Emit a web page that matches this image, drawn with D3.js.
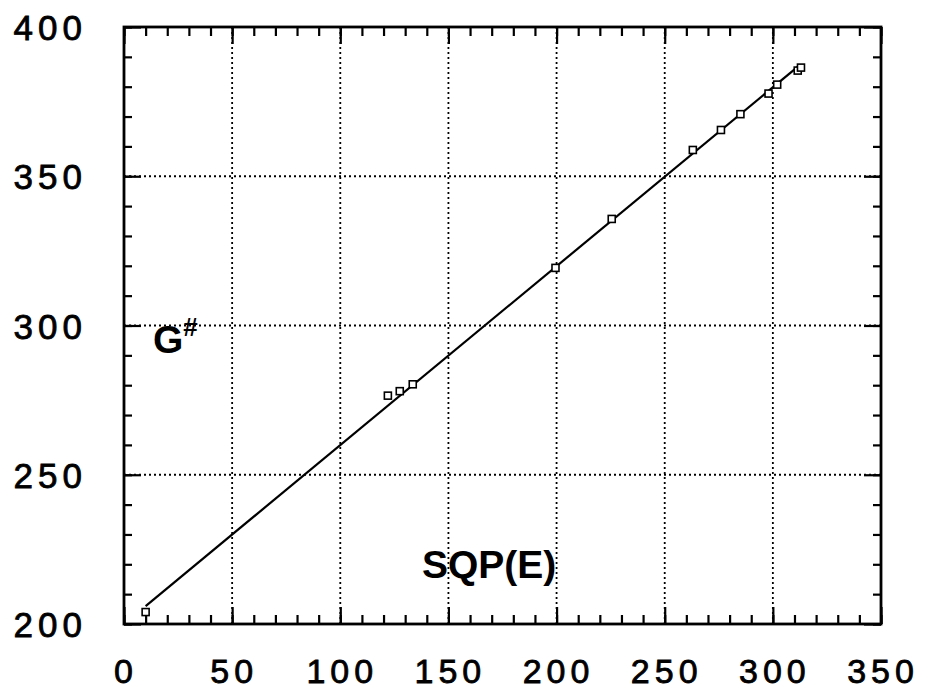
<!doctype html>
<html>
<head>
<meta charset="utf-8"/>
<title>G# vs SQP(E)</title>
<script src="https://d3js.org/d3.v7.min.js"></script>
<style>
body { margin:0; background:#fff; }
text { font-family: "Liberation Sans", Arial, sans-serif; fill:#000; }
</style>
</head>
<body>
<div id="grafico"></div>
<script>
// pontos medidos
var sqpE = [10, 122, 127.5, 133.5, 199.5, 225.5, 263, 276, 285, 298, 302, 311.5, 313];
var gVal = [204, 276.5, 278, 280.3, 319.3, 335.7, 358.8, 365.5, 370.8, 377.7, 380.7, 385.4, 386.4];
// reta ajustada
var retaX = [10, 312];
var retaY = [206, 387];
var ticksX = [0, 50, 100, 150, 200, 250, 300, 350];
var ticksY = [200, 250, 300, 350, 400];
var gridX = [50, 100, 150, 200, 250, 300];
var gridY = [250, 300, 350];

var svg = d3.select("#grafico")
    .append("svg")
    .attr("width", 925)
    .attr("height", 691);

var x = d3.scaleLinear().domain([0, 350]).range([124, 881]);
var y = d3.scaleLinear().domain([200, 400]).range([624, 27]);

var x0 = x.range()[0], x1 = x.range()[1];
var y0 = y.range()[0], y1 = y.range()[1];

// grade pontilhada
svg.selectAll(".gx").data(gridX).enter().append("line")
    .attr("x1", d => x(d)).attr("x2", d => x(d))
    .attr("y1", y1).attr("y2", y0)
    .attr("stroke", "black").attr("stroke-width", 1.8)
    .attr("stroke-dasharray", "2,3");
svg.selectAll(".gy").data(gridY).enter().append("line")
    .attr("x1", x0).attr("x2", x1)
    .attr("y1", d => y(d)).attr("y2", d => y(d))
    .attr("stroke", "black").attr("stroke-width", 1.8)
    .attr("stroke-dasharray", "2,3");

// eixos (marcas para dentro)
var menoresX = d3.range(0, 351, 10);
var menoresY = d3.range(200, 401, 10);

function eixo(ax, transl) {
    var grp = svg.append("g").attr("transform", transl).call(ax);
    grp.select(".domain").remove();
    grp.selectAll("line").attr("stroke-width", 2.2);
    return grp;
}
eixo(d3.axisBottom(x).tickValues(menoresX).tickSize(-9).tickFormat(""), "translate(0," + y0 + ")");
eixo(d3.axisBottom(x).tickValues(ticksX).tickSize(-17).tickFormat(""), "translate(0," + y0 + ")");
eixo(d3.axisTop(x).tickValues(menoresX).tickSize(-9).tickFormat(""), "translate(0," + y1 + ")");
eixo(d3.axisTop(x).tickValues(ticksX).tickSize(-17).tickFormat(""), "translate(0," + y1 + ")");
eixo(d3.axisLeft(y).tickValues(menoresY).tickSize(-8).tickFormat(""), "translate(" + x0 + ",0)");
eixo(d3.axisLeft(y).tickValues(ticksY).tickSize(-17).tickFormat(""), "translate(" + x0 + ",0)");
eixo(d3.axisRight(y).tickValues(menoresY).tickSize(-8).tickFormat(""), "translate(" + x1 + ",0)");
eixo(d3.axisRight(y).tickValues(ticksY).tickSize(-17).tickFormat(""), "translate(" + x1 + ",0)");

// moldura
svg.append("rect")
    .attr("x", x0).attr("y", y1)
    .attr("width", x1 - x0).attr("height", y0 - y1)
    .attr("fill", "none").attr("stroke", "black").attr("stroke-width", 2.8);

// rótulos
svg.selectAll(".lx").data(ticksX).enter().append("text")
    .attr("x", d => x(d) + 2)
    .attr("y", 683)
    .attr("text-anchor", "middle")
    .attr("font-size", 34)
    .attr("letter-spacing", 5)
    .attr("stroke", "black").attr("stroke-width", 0.8)
    .text(d => d);
svg.selectAll(".ly").data(ticksY).enter().append("text")
    .attr("x", 87)
    .attr("y", d => y(d) + 13)
    .attr("text-anchor", "end")
    .attr("font-size", 35)
    .attr("letter-spacing", 5)
    .attr("stroke", "black").attr("stroke-width", 0.8)
    .text(d => d);

// reta
var linha = d3.line().x(d => x(d[0])).y(d => y(d[1]));
svg.append("path")
    .datum(d3.zip(retaX, retaY))
    .attr("d", linha)
    .attr("fill", "none")
    .attr("stroke", "black")
    .attr("stroke-width", 2.2);

// quadrados
var lado = 7;
svg.selectAll(".pt").data(d3.zip(sqpE, gVal)).enter().append("rect")
    .attr("x", d => x(d[0]) - lado / 2)
    .attr("y", d => y(d[1]) - lado / 2)
    .attr("width", lado).attr("height", lado)
    .attr("fill", "white")
    .attr("stroke", "black")
    .attr("stroke-width", 1.6);

// títulos
svg.append("text")
    .attr("x", 422).attr("y", 578)
    .attr("font-size", 39).attr("font-weight", "bold")
    .text("SQP(E)");
var g = svg.append("text")
    .attr("x", 153).attr("y", 353)
    .attr("font-size", 39).attr("font-weight", "bold");
g.append("tspan").text("G");
g.append("tspan").attr("dy", -17).attr("font-size", 26).text("#");
</script>
</body>
</html>
